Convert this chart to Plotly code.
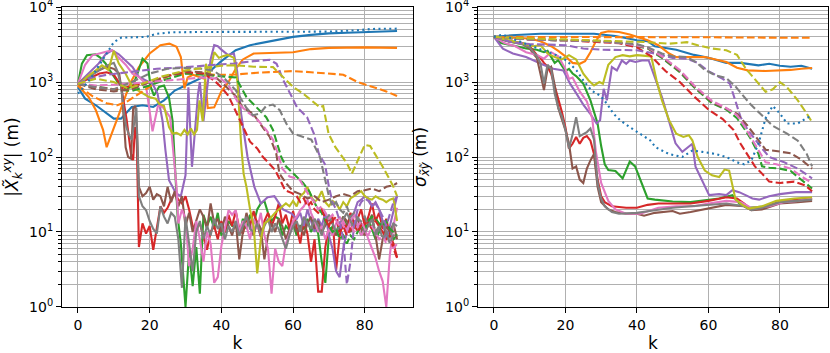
import plotly.graph_objects as go

# ---------------- LEFT PANEL DATA: |X_k^xy| (m) ----------------
L_blue_k = [0,2,5,8,10,12,15,18,21,24,27,31,35,40,44,48,52,56,60,65,70,75,80,85,89]
L_blue_v = [850,600,490,380,325,325,465,490,465,570,770,950,1170,1900,2650,3100,3400,3700,4000,4250,4450,4550,4650,4700,4800]

L_bluedot_k = [0,2,4,6,8,10,12,16,19,22,26,35,50,70,78,82,89]
L_bluedot_v = [700,900,1200,1700,2500,3400,3900,3950,4000,4400,4600,4650,4650,4700,4900,5100,5150]

L_orange_k = [0,3,5,7,8,9.5,11.5,13.5,15,17,20,23,25.5,27.5,28.7,29.7,30.6,32,34,35.5,36.2,38,40,42,44,46,49,55,60,65,70,80,89]
L_orange_v = [900,630,420,230,135,205,380,700,1050,1580,2400,3100,3250,2950,2150,820,1150,1250,1150,1100,450,460,750,1000,1500,2000,2400,2450,2500,2750,2850,2900,2850]

L_orangeD_k = [0,4,8,11,14,18,22,26,30,34,38,42,44,50,55,60,65,70,74,78,82,86,89]
L_orangeD_v = [900,650,520,490,560,750,1000,1250,1300,1300,1250,1250,1260,1330,1380,1400,1350,1300,1250,1000,860,750,650]

L_green_k = [0,1.1,2.5,4.9,6.3,7.7,9.5,11.4,13.3,15.2,16.6,18,19.4,20.3,21.2,22.6,24,25.4,26.4,27.3,27.8,28.7] + list(range(30, 90))
L_green_v = [950,1760,2280,2340,2100,1770,1290,950,820,860,1290,2050,1760,860,660,860,900,620,300,49,16,7,
             1.0,5.5,1.9,6.3,1.5,17,12,16,11,18,
             9,10,14,12,12,9,15,11,17,13,
             20,24,26,18,14,16,15,9,12,10.5,
             13,9,12,11,15,10,13,9.5,4,2.1,
             9,12,10,13,16,12,10,14,12,9,
             13,15,11,8,10,14,9,11,8,9]

L_red_k = [0,3,6,8,10,12,13,13.6,14.8,15.4,15.9,16.4] + list(range(17, 90))
L_red_v = [950,1100,1300,1350,1250,900,500,310,110,91,250,170,
           6.3,13,9.5,12,5.8,12,22,18,21,27,
           33,27,24,30,20,12,11,13,9,5.8,
           10,12,8,14,10,17,12,19,11,9.5,
           15,12,19,13,8.6,14,18,12,16,24,
           13,17,11,19,12,7,14,9.5,4,8,
           1.6,1.6,6.3,12,16,3.1,9,14,11,18,
           13,15,20,12,16,24,14,18,11,15,
           9,7,4.6]

L_purple_k = [0,3,5.8,7.7,9.5,11.4,13.3,15.2,17,18.9,20.8,22.2,23.6,24.4,25.4,27.3,28.7,30,30.8,31.8,
              32.5,33.5,34,35,36,37,38,39,40,41.8,43.5,44.4,45.5,47.3,49.2,51,52.9,54.8,57.2,59.5] + list(range(61, 90))
L_purple_v = [950,1290,1770,2340,2650,2340,1940,1590,1170,1050,950,700,300,123,49,33,30,57,850,74,
              200,700,1000,300,800,2000,3100,3000,2700,2300,2400,1400,380,100,40,24,29,30,20,17.7,
              15,18,12,20,14,10,15,12,18,9,
              6,3,2.5,6,10,13,18,25,27,30,
              28,22,25,20,14,8,12,20,30]

L_brown_k = [0,3,6,8,10,11.5,12.3,12.8,13.3,14,14.8,15.4,16,16.5] + list(range(17, 90))
L_brown_v = [950,1200,1450,1600,1500,1300,700,280,135,100,95,450,480,200,
             40,30,33,40,27,32,30,22,40,25,
             35,22,30,12,18,10,14,20,16,11,
             24,13,15,10,16,12,9,14,4.3,10,
             18,12,9,14,11,4.3,9,13,10,15,
             12,8,11,14,10,12,9,13,16,11,
             14,10,12,15,13,9,11,16,14,10,
             12,15,11,9,13,17,9,4.3,8,12,
             10,13,8]

L_pink_k = [0,2,4,6,8,9.5,11.4,13.3,15.2,17,18.9,19.8,20.8,22.3,23.6,25.7,26.6,27.5,28] + list(range(29, 90))
L_pink_v = [950,1700,2270,2400,2550,2650,2100,1700,1290,1170,950,465,220,480,465,340,120,40,13,
            20,15,3.5,6,14,8,4,10,7,2.1,
            2.5,6.5,12,19.5,17,19.5,10,14,12,8,
            15,11,18,9,6,1.5,6,4,3.5,7,
            9.5,14,16,19.5,22,27,18,14,10,12,
            8,11,9,13,16,12,10,14,18,12,
            9,11,8,6,4.5,3,2.2,1.0,5,12,
            21]

L_gray_k = [0,4,8,10,11,12,12.8,13.5,14.2,15,15.7,16.3] + list(range(17, 90))
L_gray_v = [950,1250,1650,1800,1400,900,400,250,200,170,300,450,
            30,22,19.5,14,11,9.5,22,16,13,18,
            16,8,1.8,16,7,3,10,14,8,12,
            9,15,11,13,8,12,10,14,9,12,
            16,11,10,13,9,12,15,10,13,11,
            8,6,9,12,14,10,16,13,11,15,
            12,9,14,17,13,10,12,15,18,14,
            11,16,13,10,12,15,9,11,14,10,
            8,13,12]

L_olive_k = [0,2.5,4.9,6.7,8.5,10,11.4,13.3,15.2,18,19.8,21.7,22.6,24,25.4,26.4,27.5,28.7,29.7,30.6,
             31.5,32.4,33.2,33.9,34.8,35.7,36.6,38,39.3,40.4,41.8,43.5,44.5,45.5,46.2] + list(range(47, 90))
L_olive_v = [900,1170,1420,1670,1450,2600,1760,1290,860,700,630,600,515,480,250,205,210,195,230,200,
             240,200,230,570,300,1750,1200,2500,2100,2200,2300,2100,1000,150,60,
             40,20,12,2.8,8,13,14,16,18,20,
             22,24,22,26,22,30,33,40,30,25,
             28,35,25,22,26,24,20,25,22,28,
             30,32,35,30,28,27,30,28,27,25,
             27,28,14]

L_greenD_k = [0,5,10,15,20,25,30,35,40,44,47,49.7,52.5,54.4,55.8,56.7,58,60,62.8,64.5,66.5] + list(range(68, 90))
L_greenD_v = [950,880,800,760,900,1100,1300,1250,1200,1150,630,460,340,230,135,100,75,60,45,35,22,
              18,14,12,10,11,8,9,7,9,8,10,12,11,14,16,15,13,12,14,11,10,9]

L_redD_k = [0,5,10,15,20,25,30,35,38,40,42,44,46,48,50,51.6,53,55,57.8,59.7] + list(range(61, 90))
L_redD_v = [950,850,800,880,1000,1200,1350,1300,1050,850,650,400,250,160,130,100,85,67,36,33,
            30,25,28,22,25,20,18,20,15,12,14,16,10,12,9,11,13,10,12,15,13,11,14,12,10,8,9,6,4.5]

L_purpleD_k = [0,3,8,15,22,30,38,43.5,49,53.5,55.4,57.3,59.2,61.1,63.9,65.8,67.2,68.9] + list(range(70, 90))
L_purpleD_v = [950,1110,1250,1360,1500,1580,1670,1770,1900,1980,1750,1050,700,460,340,205,110,80,
               40,25,20,14,8,2,4,12,20,25,28,26,22,24,20,16,12,18,25,30]

L_brownD_k = [0,5,10,15,20,25,30,35,38,41,44,45.9,48.8,51.6,53.5,55.3,56.2,58,60,62,64,66,68,70,72,74,76,78,80,82,84,86,88,89]
L_brownD_v = [950,800,750,800,1000,1200,1400,1350,1200,900,650,460,380,250,185,112,60,45,35,32,28,30,25,27,30,32,30,35,36,38,35,40,42,45]

L_pinkD_k = [0,5,10,15,20,25,30,35,40,42,45,47.8,49.7,52.5,54.4,55.8,57,59,61.8,63,64.6] + list(range(66, 90))
L_pinkD_v = [950,900,920,950,1000,1050,1100,1150,1100,900,500,380,330,230,170,110,70,55,50,40,30,
             25,20,22,18,15,17,14,12,14,11,13,10,12,14,11,9,12,10,8,9,7,8,6,7]

L_grayD_k = [0,5,10,15,20,25,30,35,38,41,44,46.9,48.8,50.7,52.5,54.4,56.3,58.1,60,62.8,65.1,67.5,68.4,69.3] + list(range(70, 90))
L_grayD_v = [950,850,800,1000,1300,1500,1550,1500,1400,1100,780,460,360,380,480,500,420,280,205,185,170,100,67,45,
             30,22,25,20,18,22,16,18,15,14,16,12,15,10,12,8,10,7,9,9]

L_oliveD_k = [0,5,10,14,18,23,30,36,40,44,49,54.4,57.3,60,62.8,65.7,67.5,68.4,69.9,71.8,73.7,75,76.4,77.8,80,81.5,83.4,85,86.5,88,89]
L_oliveD_v = [950,1110,1000,820,950,1170,1430,1550,1650,1670,1600,1580,1170,860,700,540,460,480,205,135,100,83,60,83,145,140,100,74,55,40,30]

# ---------------- RIGHT PANEL DATA: sigma_xy (m) ----------------
R_blue_k = [0,5,13,28,34,40,43,45,51,56,60,65,69,74,77,80,83,86,89]
R_blue_v = [4000,4200,4400,4400,4100,3600,3500,3000,2700,2300,2100,1800,1800,1670,1750,1650,1600,1650,1500]

R_bluedot_k = [0,2.5,5,9,13.8,17.5,20.3,23.1,25,27.3,29.7,31.6,33.4,35.3,38,40.9,43.7,45.2,48.9,52.7,55.5,58.3,62,65,68,70,72,74,76,78,80,82,85,87,89]
R_bluedot_v = [4000,4300,3800,3240,2640,2270,1940,1430,1050,770,660,515,380,310,250,205,167,135,110,100,122,117,110,100,85,80,90,150,330,480,380,280,280,320,360]

R_orange_k = [0,5,10,13,16,18,20,22,24,25.5,27,28.5,30,32,35,38,40,43,46,49,51,55,59,62,65,68,71,76,80,83,86,89]
R_orange_v = [4000,3900,3800,3500,3000,2600,2200,1800,1750,1900,2500,3500,4500,4750,4650,4300,4000,3600,3100,2400,2150,2150,2150,2000,1850,1550,1430,1400,1420,1450,1500,1540]

R_orangeD_k = [0,20,40,60,80,89]
R_orangeD_v = [4000,4000,4000,3950,3900,3900]

R_green_k = [0,2,5,9,12,14,15,17,18,20,21,22,23,25,27,28,29,30,31,32,34,36,38,39.5,41,43,45,50,55,60,63,66.7,68.6,71,76,80,85,89]
R_green_v = [4000,3300,3100,2800,2700,2500,2600,1800,1950,1400,1500,1300,1200,950,570,400,280,140,80,67,65,52,87,75,49,28,27,25.5,25,27,28,31,24,21,22,25,27,28]

R_red_k = [0,4,8,10,12,13,14,15,16,17,18,19,20,21,22,23,24,25,26,27,28,29,30,31,33,37,40,43,46,50,55,60,65,68,70,72,75,80,85,89]
R_red_v = [4000,3500,3300,3000,2300,2100,1800,1600,1300,900,600,400,250,130,150,185,150,180,190,165,110,50,30,25,22,21,21,23,24,24,24,26,29,28,24,20,21,25,27,28]

R_purple_k = [0,2.5,5.3,9,13.8,16.6,19.4,21.3,23.1,25,26.9,28.7,29.7,30.7,31.6,33,34.4,35.8,37,38,39.6,41.4,43.3,45.2,47,48.9,50.8,52.7,54.5,55.5,56.4,58.3,60.2,63,65,66.7,68.6,70.4,72.3,74.2,77,80,84.5,89]
R_purple_v = [4000,2780,2400,2150,1700,1500,1430,950,700,500,380,280,310,810,570,1580,1430,1940,1750,1940,1850,1940,1940,1050,630,310,152,117,135,150,74,47,31,32,31,36,34,31,28,27,30,32,34,34]

R_brown_k = [0,4,8,10,11,12,13,14,15,16,17,18,19,20,21,22,23,24,25,26,27,28,29,30,32,34,37,40,42,45,50,52,55,60,65,70,72,75,80,85,89]
R_brown_v = [4000,3500,3200,2800,2400,2100,1300,780,1500,1600,900,450,320,230,150,70,75,50,45,70,90,110,40,25,20,18.5,17.5,17.5,16.5,18,19,17.5,18.5,20.5,23,22,19.5,20,24,25,26]

R_pink_k = [0,3,6,9,12,14,16,18,20,21,22,24,26,27.5,28.5,30,32,34,37,41,46,51,56,60,65,69,72,77,81,85,89]
R_pink_v = [4000,3300,3000,2500,2300,2050,2500,2200,1500,1100,1150,750,550,330,120,45,26,20,17.5,17.5,21,22,22,24,26,25,21,22,25,26,28]

R_gray_k = [0,4,8,10,12,13,14,15,16,17,18,19,20,21,22,23,24,25,26,27,28,29,30,31,33,35,40,45,50,55,60,65,70,72,75,80,85,89]
R_gray_v = [4000,3500,3200,2900,2200,1800,950,1700,1500,700,450,350,230,130,200,340,190,200,215,240,170,45,28,22,18.5,17.5,18,19.5,21,22,23,24,22,19.5,21,25,26,27]

R_olive_k = [0,3,6,9,11,13,15,17,19,21,23,25,26.5,28,29.5,30.5,32,34,36,38,40,42,44,45.5,47,49,51,53,54.5,55.5,57,59,61,63,64.5,65.8,66.7,67.6,69.5,71.3,75,79,84,89]
R_olive_v = [4000,3700,3500,3200,3000,3100,2400,2150,2000,2280,2000,1290,1050,900,1000,950,1700,2150,2280,2200,2280,2250,2200,1050,570,310,205,185,195,167,100,66,57,54,68,66,40,27,23,20.5,22,26,28,29]

R_greenD_k = [0,10,20,30,36,40,43,47,52,56,61,65,68,70,72,74,75,77,80,83,86,89]
R_greenD_v = [4000,3700,3600,3500,3300,3000,2800,2100,1350,850,520,430,330,240,170,110,75,72,70,65,50,38]

R_redD_k = [0,10,20,30,35,40,44,48,52,56,60,64,67,69,71,73,75,77,80,84,87,89]
R_redD_v = [4000,3700,3600,3400,3300,2900,2200,1400,1000,640,430,320,230,150,105,75,60,47,45,47,42,35]

R_purpleD_k = [0,5,10,20,25,30,40,45,50,54,57,60,64,66,67.5,69,71,73,75,77,81,85,89]
R_purpleD_v = [4000,3400,3200,3100,2800,2700,2650,2400,2100,2050,1800,1400,1100,950,570,340,230,170,130,100,86,70,52]

R_brownD_k = [0,10,20,30,36,40,43,47,52,56,61,65,68,71,74,76,80,83,86,89]
R_brownD_v = [4000,3700,3600,3500,3300,3050,2850,2150,1400,880,540,440,380,260,170,125,118,112,92,70]

R_pinkD_k = [0,10,20,30,36,40,43,47,52,56,61,65,68,70,72,74,76,79,83,86,89]
R_pinkD_v = [4000,3700,3600,3500,3300,3050,2900,2200,1450,900,560,450,360,260,180,120,85,80,70,55,45]

R_grayD_k = [0,10,20,30,40,43,47,50,54,56.5,59,62,65,67.5,71.5,74.5,78,82,85,87.5,89]
R_grayD_v = [4000,3700,3600,3500,3200,2900,2400,2200,2150,1850,1450,1230,1130,880,520,380,260,205,165,110,75]

R_oliveD_k = [0,10,20,30,40,43,49,54,57,61,65,68,70.5,73,76,78,80,82,85,87.5,89]
R_oliveD_v = [4000,3800,3700,3600,3500,3400,3250,3400,3100,2800,2650,2300,1500,1100,740,800,1000,850,570,380,290]

# tick labels
Y_TICKVALS = [1, 10, 100, 1000, 10000]
Y_TICKTEXT = ["10<sup>0</sup>", "10<sup>1</sup>", "10<sup>2</sup>", "10<sup>3</sup>", "10<sup>4</sup>"]
X_TICKVALS = [0, 20, 40, 60, 80]

# ---------------- styles ----------------
C = {"blue": "#1f77b4", "orange": "#ff7f0e", "green": "#2ca02c", "red": "#d62728",
     "purple": "#9467bd", "brown": "#8c564b", "pink": "#e377c2", "gray": "#7f7f7f", "olive": "#bcbd22"}
DASH = {"solid": "solid", "dash": "7.7px,3.3px", "dot": "2px,3.4px"}

left_series = [
    (L_blue_k, L_blue_v, "blue", "solid"), (L_orange_k, L_orange_v, "orange", "solid"),
    (L_green_k, L_green_v, "green", "solid"), (L_red_k, L_red_v, "red", "solid"),
    (L_purple_k, L_purple_v, "purple", "solid"), (L_brown_k, L_brown_v, "brown", "solid"),
    (L_pink_k, L_pink_v, "pink", "solid"), (L_gray_k, L_gray_v, "gray", "solid"),
    (L_olive_k, L_olive_v, "olive", "solid"),
    (L_orangeD_k, L_orangeD_v, "orange", "dash"), (L_greenD_k, L_greenD_v, "green", "dash"),
    (L_redD_k, L_redD_v, "red", "dash"), (L_purpleD_k, L_purpleD_v, "purple", "dash"),
    (L_brownD_k, L_brownD_v, "brown", "dash"), (L_pinkD_k, L_pinkD_v, "pink", "dash"),
    (L_grayD_k, L_grayD_v, "gray", "dash"), (L_oliveD_k, L_oliveD_v, "olive", "dash"),
    (L_bluedot_k, L_bluedot_v, "blue", "dot"),
]
right_series = [
    (R_blue_k, R_blue_v, "blue", "solid"), (R_orange_k, R_orange_v, "orange", "solid"),
    (R_green_k, R_green_v, "green", "solid"), (R_red_k, R_red_v, "red", "solid"),
    (R_purple_k, R_purple_v, "purple", "solid"), (R_brown_k, R_brown_v, "brown", "solid"),
    (R_pink_k, R_pink_v, "pink", "solid"), (R_gray_k, R_gray_v, "gray", "solid"),
    (R_olive_k, R_olive_v, "olive", "solid"),
    (R_orangeD_k, R_orangeD_v, "orange", "dash"), (R_greenD_k, R_greenD_v, "green", "dash"),
    (R_redD_k, R_redD_v, "red", "dash"), (R_purpleD_k, R_purpleD_v, "purple", "dash"),
    (R_brownD_k, R_brownD_v, "brown", "dash"), (R_pinkD_k, R_pinkD_v, "pink", "dash"),
    (R_grayD_k, R_grayD_v, "gray", "dash"), (R_oliveD_k, R_oliveD_v, "olive", "dash"),
    (R_bluedot_k, R_bluedot_v, "blue", "dot"),
]

fig = go.Figure()
for series, (xa, ya) in ((left_series, ("x", "y")), (right_series, ("x2", "y2"))):
    for k, v, col, ls in series:
        fig.add_trace(go.Scatter(
            x=k, y=v, mode="lines", xaxis=xa, yaxis=ya, showlegend=False, hoverinfo="skip",
            line=dict(color=C[col], width=2.1, dash=DASH[ls])))

GRID = "#b0b0b0"
minor_vals = [m * 10 ** e for e in range(0, 4) for m in range(2, 10)]

def xaxis_style(domain, anchor):
    return dict(domain=domain, anchor=anchor, range=[-4.45, 93.45], tickvals=X_TICKVALS,
                ticks="outside", ticklen=5, tickwidth=1.1, tickcolor="black",
                showgrid=True, gridcolor=GRID, gridwidth=1.1, zeroline=False,
                showline=True, mirror=True, linecolor="black", linewidth=1.1,
                automargin=False, ticklabeloverflow="allow",
                title=dict(text="k", standoff=7), tickfont=dict(size=14))

def yaxis_style(anchor, title, standoff):
    return dict(anchor=anchor, type="log", range=[-0.0005, 4.0005], domain=[0, 1],
                tickvals=Y_TICKVALS, ticktext=Y_TICKTEXT,
                ticks="outside", ticklen=5, tickwidth=1.1, tickcolor="black",
                showgrid=True, gridcolor=GRID, gridwidth=1.1, zeroline=False,
                showline=True, mirror=True, linecolor="black", linewidth=1.1,
                automargin=False, ticklabeloverflow="allow",
                minor=dict(tickvals=minor_vals, ticks="outside", ticklen=3, tickwidth=0.8,
                           tickcolor="black", showgrid=True, gridcolor=GRID, gridwidth=1.1),
                title=dict(text=title, standoff=standoff), tickfont=dict(size=14))

W, H = 830, 353
ML, MR, MT, MB = 62, 2, 7, 46
pw = W - ML - MR
fig.update_layout(
    width=W, height=H, margin=dict(l=ML, r=MR, t=MT, b=MB, autoexpand=False),
    paper_bgcolor="white", plot_bgcolor="white",
    font=dict(family="DejaVu Sans", size=14, color="black"),
    xaxis=xaxis_style([0, (413 - ML) / pw], "y"),
    yaxis=yaxis_style("x", "|<i>X̃</i><sub><i>k</i></sub><sup><i>xy</i></sup>| (m)", 8),
    xaxis2=xaxis_style([(478 - ML) / pw, 1], "y2"),
    yaxis2=yaxis_style("x2", "<i>σ</i><sub><i>x̃ỹ</i></sub> (m)", 14),
)

# remove the browser's default 8px body margin so the figure sits at the page origin
fig.write_html("out.html", config={"displayModeBar": False},
               post_script="document.body.style.margin='0px';")
